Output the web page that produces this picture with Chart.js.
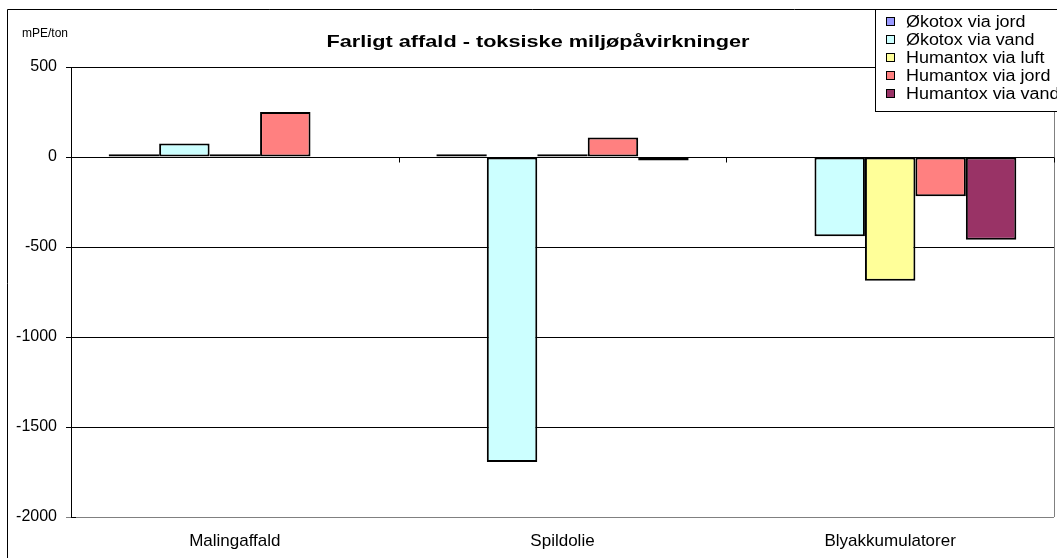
<!DOCTYPE html>
<html>
<head>
<meta charset="utf-8">
<script src="https://cdn.jsdelivr.net/npm/chart.js@4.4.1/dist/chart.umd.min.js"></script>
<style>
  html, body { margin: 0; padding: 0; background: #fff; }
  canvas { display: block; }
</style>
</head>
<body>
<canvas id="myChart" width="1057" height="558"></canvas>
<script>
// data (mPE/ton)
var categories = ['Malingaffald', 'Spildolie', 'Blyakkumulatorer'];
var seriesNames = ['Økotox via jord', 'Økotox via vand', 'Humantox via luft', 'Humantox via jord', 'Humantox via vand'];
var okotoxJord = [15, 15, null];
var okotoxVand = [75, -1695, -440];
var humantoxLuft = [15, 15, -688];
var humantoxJord = [250, 108, -218];
var humantoxVand = [null, -20, -460];
var seriesColors = ['#9999FF', '#CCFFFF', '#FFFF99', '#FF8080', '#993366'];
var yMin = -2000, yMax = 500, yStep = 500;

var titleText = 'Farligt affald - toksiske miljøpåvirkninger';
var unitText = 'mPE/ton';
var FONT = 'Arial, "Liberation Sans", sans-serif';

var seriesValues = [okotoxJord, okotoxVand, humantoxLuft, humantoxJord, humantoxVand];

// text squeezed/stretched sideways like the old excel export
function wideText(c, txt, x, y, sx) {
    c.save();
    c.translate(x, y);
    c.scale(sx, 1);
    c.fillText(txt, 0, 0);
    c.restore();
}

// extra drawing: frame, title, unit, zero axis ticks, legend box
var excelLook = {
    id: 'excelLook',
    afterDraw: function (chart) {
        var c = chart.ctx;
        var area = chart.chartArea;
        var y = chart.scales.y;
        c.save();

        // plot border right side
        c.strokeStyle = '#808080';
        c.lineWidth = 1;
        c.beginPath();
        c.moveTo(Math.round(area.right) + 0.5, area.top);
        c.lineTo(Math.round(area.right) + 0.5, area.bottom);
        c.stroke();

        // zero line with category tick marks
        var y0 = Math.round(y.getPixelForValue(0)) + 0.5;
        c.strokeStyle = '#000';
        c.beginPath();
        c.moveTo(area.left, y0);
        c.lineTo(area.right, y0);
        var catW = (area.right - area.left) / categories.length;
        for (var i = 1; i <= categories.length; i++) {
            var bx = Math.round(area.left + catW * i) + 0.5;
            c.moveTo(bx, y0);
            c.lineTo(bx, y0 + 5);
        }
        // inner half of the y ticks
        y.ticks.forEach(function (t) {
            var ty = Math.round(y.getPixelForValue(t.value)) + 0.5;
            c.moveTo(area.left, ty);
            c.lineTo(area.left + 5, ty);
        });
        c.stroke();

        // outer chart frame
        c.beginPath();
        c.moveTo(7.5, chart.height);
        c.lineTo(7.5, 9.5);
        c.lineTo(chart.width, 9.5);
        c.stroke();

        // title + unit
        c.fillStyle = '#000';
        c.textBaseline = 'middle';
        c.font = 'bold 17px ' + FONT;
        var tw = c.measureText(titleText).width;
        c.textAlign = 'left';
        wideText(c, titleText, 538 - 423 / 2, 42, 423 / tw);
        c.font = '12px ' + FONT;
        c.fillText(unitText, 22, 34);

        // legend box
        c.fillStyle = '#fff';
        c.fillRect(875, 9, 200, 102);
        c.strokeStyle = '#000';
        c.strokeRect(875.5, 9.5, 200, 102);
        c.font = '16px ' + FONT;
        chart.data.datasets.forEach(function (ds, k) {
            var ry = 22 + k * 18;
            c.fillStyle = ds.backgroundColor;
            c.fillRect(886, ry - 4, 8, 8);
            c.strokeStyle = '#000';
            c.strokeRect(886.5, ry - 4.5, 8, 8);
            c.fillStyle = '#000';
            wideText(c, ds.label, 906, ry + 1, 1.12);
        });
        c.restore();
    }
};

var ctx = document.getElementById('myChart').getContext('2d');
var chart1 = new Chart(ctx, {
    type: 'bar',
    data: {
        labels: categories,
        datasets: seriesNames.map(function (name, k) {
            return {
                label: name,
                data: seriesValues[k],
                backgroundColor: seriesColors[k],
                borderColor: '#000',
                borderWidth: 2,
                borderSkipped: false
            };
        })
    },
    options: {
        responsive: false,
        animation: false,
        layout: { padding: { top: 67, right: 3, left: 0, bottom: 0 } },
        categoryPercentage: 0.77,
        barPercentage: 1,
        plugins: {
            legend: { display: false },
            title: { display: false },
            tooltip: { enabled: false }
        },
        scales: {
            x: {
                grid: { display: false, drawTicks: false },
                border: { display: false },
                ticks: { color: '#000', font: { family: FONT, size: 17 }, padding: 14, maxRotation: 0 },
                afterFit: function (s) { s.height = 41; }
            },
            y: {
                min: yMin,
                max: yMax,
                ticks: {
                    stepSize: yStep,
                    color: '#000',
                    font: { family: FONT, size: 16 },
                    padding: 9,
                    callback: function (v) { return String(v); }
                },
                grid: {
                    color: function (c) { return c.tick && c.tick.value === yMin ? '#808080' : '#000'; },
                    tickLength: 5
                },
                border: { color: '#000' },
                afterFit: function (s) { s.width = 71; }
            }
        }
    },
    plugins: [excelLook]
});
</script>
</body>
</html>
